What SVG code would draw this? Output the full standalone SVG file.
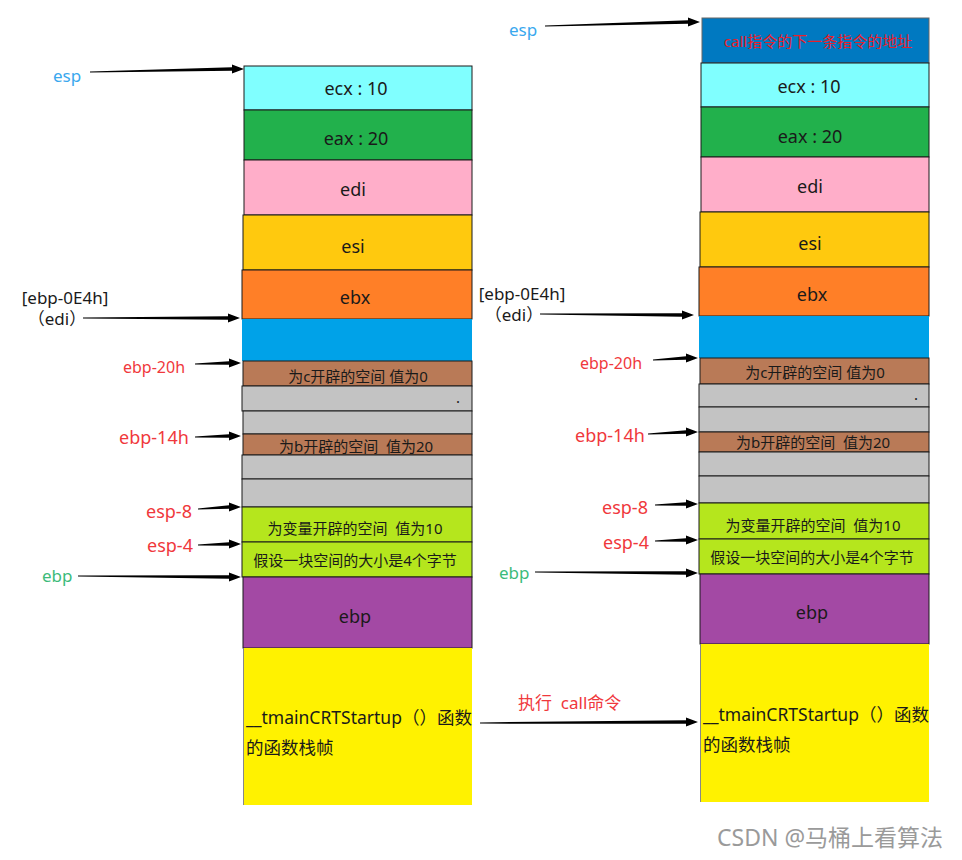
<svg xmlns="http://www.w3.org/2000/svg" width="962" height="860" viewBox="0 0 962 860">
<style>
text{font-family:"Noto Sans","Noto Sans CJK SC",sans-serif;fill:#1a1a1a;white-space:pre}
.c{text-anchor:middle}
.cell{stroke:#1a1a1a;stroke-width:1}
.arr{fill:#000}
.red{fill:#F0383C}
.blue{fill:#3AA8EE}
.grn{fill:#3CBB7A}
.f14{font-size:15px}
.f15{font-size:15px}
.f16{font-size:16px}
.f17{font-size:17px}
.f18{font-size:18px}
</style>
<rect width="962" height="860" fill="#fff"/>

<g id="left-stack">
<g id="L-ecx"><rect class="cell" x="244" y="66" width="228" height="44" fill="#80FFFF"/><text class="c f18" x="356" y="95">ecx : 10</text></g>
<g id="L-eax"><rect class="cell" x="244" y="110" width="228" height="50" fill="#22B14C"/><text class="c f18" x="356" y="145">eax : 20</text></g>
<g id="L-edi"><rect class="cell" x="244" y="160" width="228" height="55" fill="#FFAEC9"/><text class="c f18" x="353" y="196">edi</text></g>
<g id="L-esi"><rect class="cell" x="243" y="215" width="229" height="55" fill="#FFC90E"/><text class="c f18" x="353" y="253">esi</text></g>
<g id="L-ebx"><rect class="cell" x="242" y="270" width="230" height="49" fill="#FF7F27"/><text class="c f18" x="355" y="304">ebx</text></g>
<g id="L-blue"><rect x="242" y="319" width="230" height="42" fill="#00A2E8"/></g>
<g id="L-c"><rect class="cell" x="243" y="361" width="229" height="25" fill="#B97A57"/><text class="c f14" x="358" y="382">为c开辟的空间 值为0</text></g>
<g id="L-g1"><rect class="cell" x="242" y="386" width="230" height="25" fill="#C3C3C3"/><text class="f14" x="456" y="403">.</text></g>
<g id="L-g2"><rect class="cell" x="243" y="411" width="229" height="23" fill="#C3C3C3"/></g>
<g id="L-b"><rect class="cell" x="243" y="434" width="229" height="21" fill="#B97A57"/><text class="c f14" x="356" y="452">为b开辟的空间  值为20</text></g>
<g id="L-g3"><rect class="cell" x="242" y="455" width="230" height="24" fill="#C3C3C3"/></g>
<g id="L-g4"><rect class="cell" x="242" y="479" width="230" height="28" fill="#C3C3C3"/></g>
<g id="L-var"><rect class="cell" x="242" y="507" width="230" height="35" fill="#B5E61D"/><text class="c f14" x="355" y="534">为变量开辟的空间  值为10</text></g>
<g id="L-4b"><rect class="cell" x="242" y="542" width="230" height="35" fill="#B5E61D"/><text class="c f14" x="355" y="566">假设一块空间的大小是4个字节</text></g>
<g id="L-ebp"><rect class="cell" x="243" y="577" width="229" height="71" fill="#A349A4"/><text class="c f18" x="355" y="623">ebp</text></g>
<g id="L-main"><rect x="243" y="648" width="229" height="157" fill="#FFF200"/><line x1="243.5" y1="648" x2="243.5" y2="805" stroke="#888" stroke-width="1"/><text x="246" y="724" style="font-size:17.5px">__tmainCRTStartup（）函数</text><text x="246" y="754" style="font-size:17.5px">的函数栈帧</text></g>
</g>

<g id="right-stack">
<g id="R-ret"><rect x="702" y="18" width="227" height="45" fill="#0079C1" stroke="#666" stroke-width="1"/><text class="c f15" x="818" y="47" style="fill:#E8202A">call指令的下一条指令的地址</text></g>
<g id="R-ecx"><rect class="cell" x="701" y="63" width="228" height="44" fill="#80FFFF"/><text class="c f18" x="809" y="93">ecx : 10</text></g>
<g id="R-eax"><rect class="cell" x="701" y="107" width="228" height="50" fill="#22B14C"/><text class="c f18" x="810" y="143">eax : 20</text></g>
<g id="R-edi"><rect class="cell" x="701" y="157" width="228" height="55" fill="#FFAEC9"/><text class="c f18" x="810" y="193">edi</text></g>
<g id="R-esi"><rect class="cell" x="700" y="212" width="229" height="55" fill="#FFC90E"/><text class="c f18" x="810" y="250">esi</text></g>
<g id="R-ebx"><rect class="cell" x="699" y="267" width="230" height="49" fill="#FF7F27"/><text class="c f18" x="812" y="301">ebx</text></g>
<g id="R-blue"><rect x="699" y="316" width="230" height="42" fill="#00A2E8"/></g>
<g id="R-c"><rect class="cell" x="700" y="358" width="229" height="26" fill="#B97A57"/><text class="c f14" x="815" y="378">为c开辟的空间 值为0</text></g>
<g id="R-g1"><rect class="cell" x="699" y="384" width="230" height="23" fill="#C3C3C3"/><text class="f14" x="914" y="400">.</text></g>
<g id="R-g2"><rect class="cell" x="699" y="407" width="230" height="25" fill="#C3C3C3"/></g>
<g id="R-b"><rect class="cell" x="699" y="432" width="230" height="20" fill="#B97A57"/><text class="c f14" x="813" y="448">为b开辟的空间  值为20</text></g>
<g id="R-g3"><rect class="cell" x="699" y="452" width="230" height="24" fill="#C3C3C3"/></g>
<g id="R-g4"><rect class="cell" x="699" y="476" width="230" height="27" fill="#C3C3C3"/></g>
<g id="R-var"><rect class="cell" x="699" y="503" width="230" height="36" fill="#B5E61D"/><text class="c f14" x="813" y="531">为变量开辟的空间  值为10</text></g>
<g id="R-4b"><rect class="cell" x="699" y="539" width="230" height="35" fill="#B5E61D"/><text class="c f14" x="812" y="563">假设一块空间的大小是4个字节</text></g>
<g id="R-ebp"><rect class="cell" x="700" y="574" width="229" height="70" fill="#A349A4"/><text class="c f18" x="812" y="619">ebp</text></g>
<g id="R-main"><rect x="700" y="644" width="229" height="158" fill="#FFF200"/><line x1="700.5" y1="644" x2="700.5" y2="802" stroke="#888" stroke-width="1"/><text x="703" y="721" style="font-size:17.5px">__tmainCRTStartup（）函数</text><text x="703" y="751" style="font-size:17.5px">的函数栈帧</text></g>
</g>

<g id="labels">
<text class="f17 blue" x="53" y="82">esp</text>
<text class="c f17" x="65" y="304">[ebp-0E4h]</text>
<text class="c f17" x="57" y="325">（edi）</text>
<text class="f16 red" x="123" y="373">ebp-20h</text>
<text class="f18 red" x="119" y="444">ebp-14h</text>
<text class="f18 red" x="146" y="518">esp-8</text>
<text class="f18 red" x="147" y="552">esp-4</text>
<text class="f17 grn" x="42" y="582">ebp</text>
<text class="f17 red" x="518" y="709">执行  call命令</text>
<text class="f17 blue" x="509" y="36">esp</text>
<text class="c f17" x="522" y="300">[ebp-0E4h]</text>
<text class="c f17" x="514" y="321">（edi）</text>
<text class="f16 red" x="580" y="369">ebp-20h</text>
<text class="f18 red" x="575" y="442">ebp-14h</text>
<text class="f18 red" x="602" y="514">esp-8</text>
<text class="f18 red" x="603" y="549">esp-4</text>
<text class="f17 grn" x="499" y="579">ebp</text>
<text x="717" y="846" style="font-size:23px;fill:#9a9a9a">CSDN @马桶上看算法</text>
</g>

<g id="connectors">
<polygon class="arr" points="90,71.4 232,67.2 232,64.5 244,69 232,73.5 232,70.8 90,72.6"/>
<polygon class="arr" points="83,317.4 228,316.2 228,313.5 240,318 228,322.5 228,319.8 83,318.6"/>
<polygon class="arr" points="195,363.4 229,361.2 229,358.5 241,363 229,367.5 229,364.8 195,364.6"/>
<polygon class="arr" points="195,436.4 229,434.2 229,431.5 241,436 229,440.5 229,437.8 195,437.6"/>
<polygon class="arr" points="198,508.4 229,505.2 229,502.5 241,507 229,511.5 229,508.8 198,509.6"/>
<polygon class="arr" points="198,544.4 229,542.2 229,539.5 241,544 229,548.5 229,545.8 198,545.6"/>
<polygon class="arr" points="78,575.4 229,575.2 229,572.5 241,577 229,581.5 229,578.8 78,576.6"/>
<polygon class="arr" points="480,722.4 686,720.2 686,717.5 698,722 686,726.5 686,723.8 480,723.6"/>
<polygon class="arr" points="545,25.4 688,20.2 688,17.5 700,22 688,26.5 688,23.8 545,26.6"/>
<polygon class="arr" points="540,313.4 682,313.2 682,310.5 694,315 682,319.5 682,316.8 540,314.6"/>
<polygon class="arr" points="653,359.4 686,356.2 686,353.5 698,358 686,362.5 686,359.8 653,360.6"/>
<polygon class="arr" points="648,433.4 686,430.2 686,427.5 698,432 686,436.5 686,433.8 648,434.6"/>
<polygon class="arr" points="655,504.4 686,502.2 686,499.5 698,504 686,508.5 686,505.8 655,505.6"/>
<polygon class="arr" points="655,540.4 686,538.2 686,535.5 698,540 686,544.5 686,541.8 655,541.6"/>
<polygon class="arr" points="535,571.4 686,571.2 686,568.5 698,573 686,577.5 686,574.8 535,572.6"/>
</g>
</svg>
